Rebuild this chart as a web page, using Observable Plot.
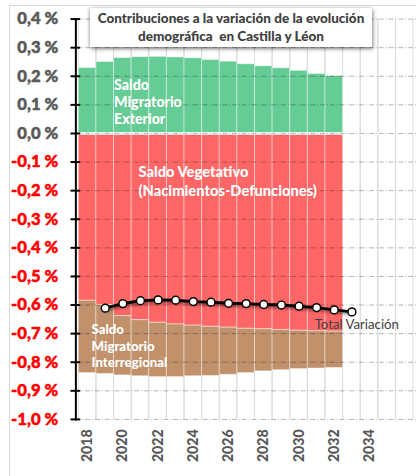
<!DOCTYPE html>
<html>
<head>
<meta charset="utf-8">
<script src="https://cdn.jsdelivr.net/npm/d3@7"></script>
<script src="https://cdn.jsdelivr.net/npm/@observablehq/plot@0.6"></script>
<style>
html, body { margin: 0; padding: 0; background: #fff; overflow: hidden; }
#wrap { position: relative; width: 416px; height: 476px; overflow: hidden; font-family: Lato, "Open Sans", sans-serif; }
#border { position: absolute; left: 9px; top: 5px; width: 700px; height: 700px; border: 1px solid #d9d9d9; box-sizing: border-box; }
#chart { position: absolute; left: 0; top: 0; }
#title { position: absolute; left: 90px; top: 8px; width: 282px; height: 39px; box-sizing: border-box; padding-top: 1px;
  background: #fff; box-shadow: 1px 2px 4px rgba(0,0,0,0.45), -1px 0 3px rgba(0,0,0,0.2);
  text-align: center; font-weight: 900; font-size: 13.5px; line-height: 18px; color: #404040; white-space: nowrap; }
</style>
</head>
<body>
<div id="wrap">
  <div id="border"></div>
  <div id="chart"></div>
  <div id="title">Contribuciones a la variación de la evolución<br>demográfica&nbsp; en Castilla y Léon</div>
</div>
<script>
// ---- data (percent units) ----
const years = [2018, 2019, 2020, 2021, 2022, 2023, 2024, 2025, 2026, 2027, 2028, 2029, 2030, 2031, 2032];
const saldoExterior = [0.229, 0.250, 0.264, 0.267, 0.268, 0.266, 0.263, 0.257, 0.251, 0.242, 0.235, 0.228, 0.219, 0.208, 0.201];
const saldoVegetativo = [-0.585, -0.600, -0.639, -0.653, -0.662, -0.668, -0.672, -0.676, -0.679, -0.683, -0.685, -0.687, -0.690, -0.692, -0.693];
const saldoInterregional = [-0.253, -0.241, -0.207, -0.196, -0.190, -0.184, -0.177, -0.172, -0.165, -0.155, -0.147, -0.141, -0.134, -0.130, -0.127];
const lineYears = [2019, 2020, 2021, 2022, 2023, 2024, 2025, 2026, 2027, 2028, 2029, 2030, 2031, 2032, 2033];
const totalVariacion = [-0.611, -0.595, -0.585, -0.582, -0.583, -0.588, -0.590, -0.594, -0.595, -0.598, -0.600, -0.604, -0.609, -0.617, -0.624];
const xDomain = [2018, 2019, 2020, 2021, 2022, 2023, 2024, 2025, 2026, 2027, 2028, 2029, 2030, 2031, 2032, 2033, 2034, 2035, 2036];
const xTicks = [2018, 2020, 2022, 2024, 2026, 2028, 2030, 2032, 2034];
const yTicks = [-1.0, -0.9, -0.8, -0.7, -0.6, -0.5, -0.4, -0.3, -0.2, -0.1, 0.0, 0.1, 0.2, 0.3, 0.4];
const seriesNames = ["Saldo Migratorio Exterior", "Saldo Vegetativo", "Saldo Migratorio Interregional"];
const seriesColors = ["#66cc95", "#ff6666", "#c0916a"];

const stacked = years.flatMap((yr, i) => [
  {year: yr, series: seriesNames[0], value: saldoExterior[i]},
  {year: yr, series: seriesNames[1], value: saldoVegetativo[i]},
  {year: yr, series: seriesNames[2], value: saldoInterregional[i]}
]);
const lineData = lineYears.map((yr, i) => ({year: yr, value: totalVariacion[i]}));
const fmt = v => (v < 0 ? "-" : "") + Math.abs(v).toFixed(1).replace(".", ",") + " %";
const negTicks = yTicks.filter(v => v < 0);
const posTicks = yTicks.filter(v => v >= 0);
const bold = {fontWeight: 900};

const chart = Plot.plot({
  width: 425,
  height: 476,
  marginLeft: 77,
  marginRight: 0,
  marginTop: 19,
  marginBottom: 48,
  style: {fontFamily: "Lato, 'Open Sans', sans-serif", background: "transparent"},
  x: {type: "band", domain: xDomain, padding: 0, axis: null},
  y: {domain: [-1.0, 0.4], axis: null},
  color: {domain: seriesNames, range: seriesColors},
  marks: [
    Plot.barY(xDomain, {x: d => d, y1: -1.2, y2: 0.6, fill: "none", stroke: "#dcdcdc", strokeWidth: 1, clip: true}),
    Plot.barY(stacked, {x: "year", y: "value", fill: "series", order: seriesNames, stroke: "white", strokeOpacity: 0.45, strokeWidth: 1}),
    Plot.ruleY([0], {stroke: "white", strokeWidth: 2.5}),
    Plot.gridY({ticks: yTicks, stroke: "#000", strokeOpacity: 0.3, strokeWidth: 1, strokeDasharray: "5,2,1,2"}),
    Plot.axisY({ticks: yTicks, tickSize: 10, dx: 5, tickFormat: () => "", stroke: "black", strokeWidth: 2, label: null}),
    Plot.frame({anchor: "left", stroke: "black", strokeWidth: 2}),
    Plot.text(posTicks, {y: d => d, frameAnchor: "left", textAnchor: "end", dx: -18, text: fmt, fill: "#595959", stroke: "#595959", strokeWidth: 0.5, ...bold, fontSize: 17}),
    Plot.text(negTicks, {y: d => d, frameAnchor: "left", textAnchor: "end", dx: -18, text: fmt, fill: "#ff0000", stroke: "#ff0000", strokeWidth: 0.5, ...bold, fontSize: 17}),
    Plot.axisX({ticks: xTicks, tickFormat: d => String(d), tickRotate: -90, tickSize: 0, tickPadding: 10, fontSize: 14.5, ...bold, fill: "#595959", stroke: "#595959", strokeWidth: 0.4, label: null}),
    Plot.line(lineData, {x: "year", y: "value", stroke: "black", strokeWidth: 3}),
    Plot.dot(lineData, {x: "year", y: "value", r: 4, fill: "white", stroke: "black", strokeWidth: 1.5}),
    Plot.text(["Saldo\nMigratorio\nExterior"], {x: [2020], y: [0.111], text: d => d, textAnchor: "start", dx: -9, fill: "white", ...bold, fontSize: 14.5, lineHeight: 1.2}),
    Plot.text(["Saldo Vegetativo\n(Nacimientos-Defunciones)"], {x: [2021], y: [-0.163], text: d => d, textAnchor: "start", dx: -2, fill: "white", ...bold, fontSize: 15, lineHeight: 1.29}),
    Plot.text(["Saldo\nMigratorio\nInterregional"], {x: [2018], y: [-0.742], text: d => d, textAnchor: "start", dx: 4, fill: "white", ...bold, fontSize: 13.5, lineHeight: 1.25}),
    Plot.text(["Total Variación"], {x: [2033], y: [-0.670], text: d => d, textAnchor: "middle", dx: 5, fill: "#404040", fontSize: 13.5})
  ]
});
const lineG = chart.querySelector('g[aria-label="line"]');
if (lineG) lineG.style.filter = "drop-shadow(1px 2px 1.5px rgba(0,0,0,0.45))";
document.getElementById("chart").appendChild(chart);
</script>
</body>
</html>
